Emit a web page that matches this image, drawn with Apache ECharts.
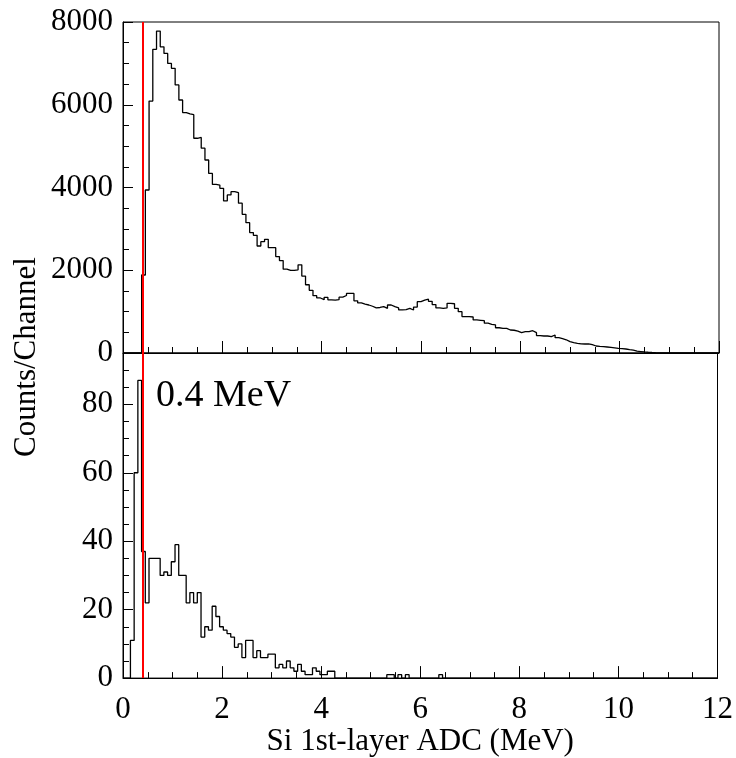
<!DOCTYPE html>
<html>
<head>
<meta charset="utf-8">
<script src="https://cdn.jsdelivr.net/npm/echarts@6/dist/echarts.min.js"></script>
<style>
  html, body { margin: 0; padding: 0; background: #fff; }
  #chart { width: 736px; height: 758px; }
</style>
</head>
<body>
<div id="chart"></div>
<script>
// histogram binning (MeV)
const BIN_WIDTH = 0.075;
const THRESHOLD_MEV = 0.4;

// top panel: all events, counts per 0.075 MeV channel
const topCounts = [
  0, 0, 0, 0, 0, 1885, 3940, 6090, 7340, 7780,
  7400, 7240, 7000, 6880, 6480, 6115, 5810, 5780, 5760, 5190,
  5210, 4950, 4665, 4340, 4075, 4060, 3980, 3675, 3820, 3900,
  3875, 3620, 3352, 3150, 2910, 2845, 2586, 2690, 2747, 2545,
  2545, 2330, 2235, 2025, 1995, 1995, 2010, 2130, 1860, 1650,
  1515, 1385, 1330, 1290, 1345, 1285, 1280, 1290, 1350, 1390,
  1440, 1440, 1260, 1210, 1180, 1160, 1130, 1090, 1100, 1120,
  1080, 1160, 1120, 1090, 1040, 1050, 1080, 1040, 1110, 1240,
  1280, 1300, 1250, 1170, 1090, 1080, 1090, 1200, 1190, 1080,
  1000, 880, 880, 870, 800, 790, 780, 720, 690, 680,
  610, 596, 596, 556, 550, 530, 491, 515, 515, 539,
  491, 420, 411, 411, 395, 435, 370, 347, 320, 274,
  250, 234, 220, 218, 218, 200, 169, 160, 153, 145,
  137, 125, 113, 105, 97, 80, 70, 45, 35, 25,
  18, 12, 8, 5, 3, 0, 0, 0, 0, 0,
  0, 0, 0, 0, 0, 0, 0, 0, 0, 0
];

// bottom panel: selected events
const bottomCounts = [
  0, 0, 11, 60, 87, 37, 22, 35, 35, 35,
  30, 31, 30, 34, 39, 30, 30, 22, 25, 22,
  25, 12, 15, 14, 21, 18, 15, 14, 13, 12,
  9, 10, 6, 11, 11, 6, 8, 6, 6, 7,
  7, 3, 4, 3, 5, 3, 2, 4, 2, 1,
  1, 3, 2, 1, 1, 2, 2, 0, 0, 0,
  0, 0, 0, 0, 0, 0, 0, 0, 0, 0,
  0, 1, 1, 0, 1, 0, 1, 0, 0, 0,
  0, 0, 0, 0, 0, 1, 0, 0, 0, 0,
  0, 0, 0, 0, 0, 0, 0, 0, 0, 0,
  0, 0, 0, 0, 0, 0, 0, 0, 0, 0,
  0, 0, 0, 0, 0, 0, 0, 0, 0, 0,
  0, 0, 0, 0, 0, 0, 0, 0, 0, 0,
  0, 0, 0, 0, 0, 0, 0, 0, 0, 0,
  0, 0, 0, 0, 0, 0, 0, 0, 0, 0,
  0, 0, 0, 0, 0, 0, 0, 0, 0, 0
];

const FONT = '"Liberation Serif", "DejaVu Serif", serif';
const LABEL_SIZE = 31;

// bin left edges + closing point, drawn as steps
const toSteps = (counts) => {
  const pts = counts.map((c, i) => [+(i * BIN_WIDTH).toFixed(4), c]);
  pts.push([+(counts.length * BIN_WIDTH).toFixed(4), counts[counts.length - 1]]);
  return pts;
};

const chart = echarts.init(document.getElementById('chart'), null, { renderer: 'canvas' });

const xAxisBase = (gridIndex, showLabels) => ({
  type: 'value',
  gridIndex,
  min: 0,
  max: 12,
  interval: 2,
  axisLine: { show: true, lineStyle: { color: '#000', width: 1 } },
  axisTick: { show: true, inside: true, length: 12, lineStyle: { color: '#000', width: 1 } },
  minorTick: { show: true, splitNumber: 4, length: 6, lineStyle: { color: '#000', width: 1 } },
  splitLine: { show: false },
  axisLabel: { show: showLabels, color: '#000', fontFamily: FONT, fontSize: LABEL_SIZE, margin: 16 },
});

const yLabel = {
  color: '#000',
  fontFamily: FONT,
  fontSize: LABEL_SIZE,
  margin: 10,
  formatter: (v) => String(v),
};

const markThreshold = {
  silent: true,
  symbol: 'none',
  label: { show: false },
  lineStyle: { color: '#ff0000', width: 2, type: 'solid' },
  data: [{ xAxis: THRESHOLD_MEV }],
};

chart.setOption({
  animation: false,
  backgroundColor: '#fff',
  grid: [
    { left: 123, top: 22, width: 596, height: 331, show: true, borderColor: '#000', borderWidth: 1 },
    { left: 123, top: 353, width: 596, height: 331, show: true, borderColor: '#000', borderWidth: 1 },
  ],
  xAxis: [
    xAxisBase(0, false),
    Object.assign(xAxisBase(1, true), {
      name: 'Si 1st-layer ADC (MeV)',
      nameLocation: 'middle',
      nameGap: 47,
      nameTextStyle: { color: '#000', fontFamily: FONT, fontSize: LABEL_SIZE },
    }),
  ],
  yAxis: [
    {
      type: 'value',
      gridIndex: 0,
      position: 'left',
      min: 0,
      max: 8000,
      interval: 2000,
      axisLine: { show: true, lineStyle: { color: '#000', width: 1 } },
      axisTick: { show: true, inside: true, length: 10, lineStyle: { color: '#000' } },
      minorTick: { show: true, splitNumber: 4, length: 6, lineStyle: { color: '#000' } },
      splitLine: { show: false },
      axisLabel: yLabel,
    },
    {
      type: 'value',
      gridIndex: 1,
      position: 'left',
      min: 0,
      max: 95,
      interval: 20,
      axisLine: { show: true, lineStyle: { color: '#000', width: 1 } },
      axisTick: { show: true, inside: true, length: 10, lineStyle: { color: '#000' } },
      splitLine: { show: false },
      axisLabel: Object.assign({}, yLabel, { showMaxLabel: false }),
    },
    {
      // minor ticks every 5 counts
      type: 'value',
      gridIndex: 1,
      position: 'left',
      offset: 0,
      min: 0,
      max: 95,
      interval: 5,
      axisLine: { show: false },
      axisTick: { show: true, inside: true, length: 6, lineStyle: { color: '#000' } },
      splitLine: { show: false },
      axisLabel: { show: false },
    },
  ],
  graphic: [
    {
      type: 'text',
      left: 156,
      top: 377,
      style: { text: '0.4 MeV', fill: '#000', font: '38px ' + FONT },
    },
    {
      type: 'text',
      x: 27,
      y: 357,
      rotation: Math.PI / 2,
      style: {
        text: 'Counts/Channel',
        fill: '#000',
        font: '31px ' + FONT,
        align: 'center',
        verticalAlign: 'middle',
      },
    },
  ],
  series: [
    {
      type: 'line',
      xAxisIndex: 0,
      yAxisIndex: 0,
      step: 'end',
      symbol: 'none',
      data: toSteps(topCounts),
      lineStyle: { color: '#000', width: 1.3 },
      markLine: markThreshold,
    },
    {
      type: 'line',
      xAxisIndex: 1,
      yAxisIndex: 1,
      step: 'end',
      symbol: 'none',
      data: toSteps(bottomCounts),
      lineStyle: { color: '#000', width: 1.3 },
      markLine: markThreshold,
    },
  ],
});
</script>
</body>
</html>
